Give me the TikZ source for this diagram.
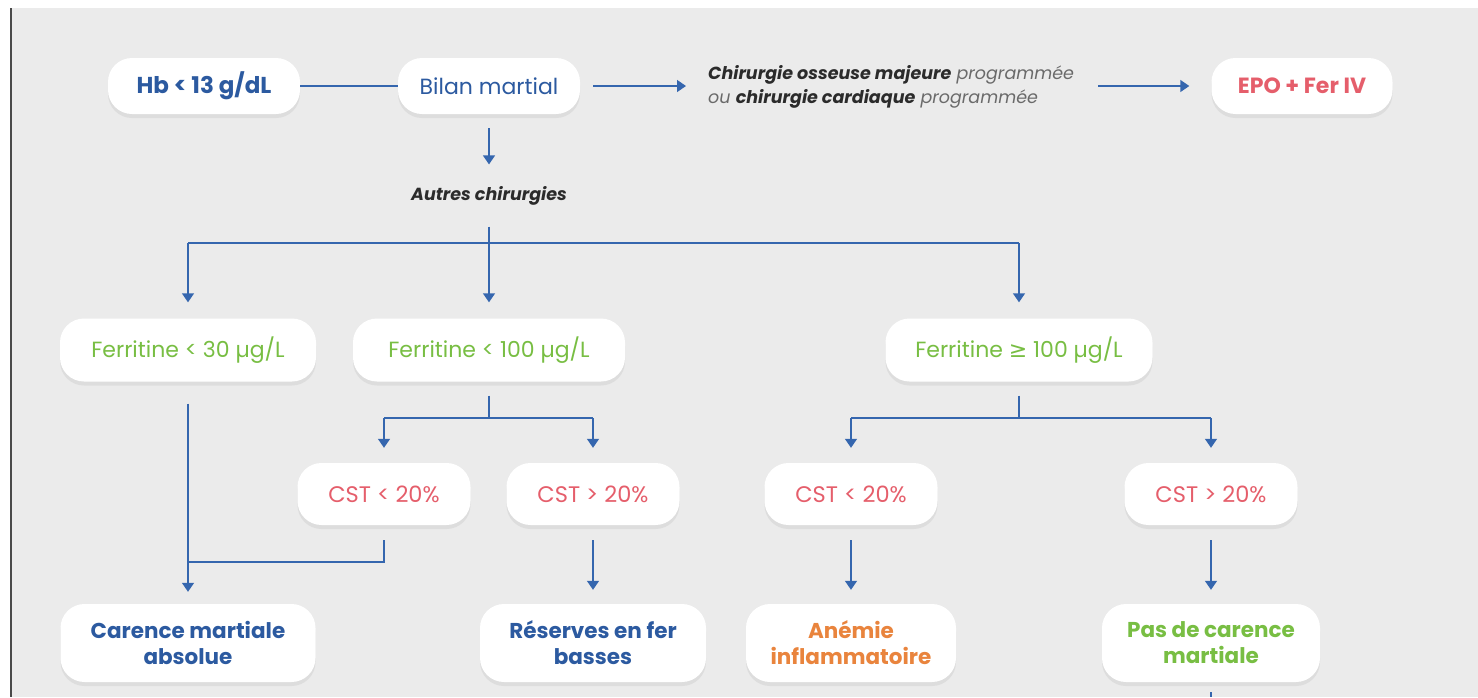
\documentclass[tikz,border=0pt]{standalone}
\usepackage{fontspec}
\setmainfont{Poppins}
\newfontfamily\symfont{DejaVu Sans}
\usetikzlibrary{shadows,arrows.meta}
\definecolor{bgcol}{HTML}{EBEBEB}
\definecolor{framecol}{HTML}{4A4A4A}
\definecolor{tblue}{HTML}{2C5AA0}
\definecolor{lblue}{HTML}{3566AE}
\definecolor{tgreen}{HTML}{78BE43}
\definecolor{tred}{HTML}{E55E6B}
\definecolor{torange}{HTML}{E9843D}
\definecolor{tdark}{HTML}{2B2B2B}
\definecolor{tgray}{HTML}{6A6A6A}
\tikzset{
  box/.style={fill=white, rounded corners=24pt, align=center, inner sep=0pt,
    drop shadow={opacity=0.13, shadow xshift=0pt, shadow yshift=-4pt}},
  pill/.style={box, minimum height=56pt},
  ferbox/.style={box, minimum height=63pt, text=tgreen, font=\fontsize{22}{26}\selectfont},
  cstbox/.style={box, minimum width=173pt, minimum height=62pt, text=tred, font=\fontsize{22.5}{26}\selectfont},
  resbox/.style={box, minimum height=78pt, font=\fontsize{21.5}{26}\selectfont\bfseries},
  conn/.style={draw=lblue, line width=1.4pt},
  arr/.style={conn, -{Triangle[width=12pt,length=9pt]}},
}
\begin{document}
\begin{tikzpicture}[x=1pt,y=-1pt]
\useasboundingbox (0,0) rectangle (1478,697);
\fill[white] (0,0) rectangle (1478,697);
\fill[bgcol] (11,8) rectangle (1478,697);
\draw[framecol, line width=2pt] (10.5,8) -- (10.5,697);

% top row
\node[pill, minimum width=192pt, text=tblue, font=\fontsize{23}{26}\selectfont\bfseries] (hb) at (204,86) {Hb < 13 g/dL};
\node[pill, minimum width=182pt, text=tblue, font=\fontsize{22}{26}\selectfont] (bilan) at (489,86) {Bilan martial};
\node[anchor=west, align=left, inner sep=0pt, font=\fontsize{17.5}{24}\selectfont\itshape, text=tgray] (chir) at (708,87)
  {{\color{tdark}\bfseries Chirurgie osseuse majeure} programmée\\ou {\color{tdark}\bfseries chirurgie cardiaque} programmée};
\node[pill, minimum width=181pt, text=tred, font=\fontsize{22}{26}\selectfont\bfseries] (epo) at (1302,86) {EPO + Fer IV};
\node[inner sep=0pt, text=tdark, font=\fontsize{17.5}{20}\selectfont\bfseries\itshape] (autres) at (489,196) {Autres chirurgies};

% ferritine row
\node[ferbox, minimum width=256pt] (f30) at (188,350) {Ferritine < 30 µg/L};
\node[ferbox, minimum width=272pt] (f100) at (489,350) {Ferritine < 100 µg/L};
\node[ferbox, minimum width=267pt] (fge) at (1019,350) {Ferritine {\symfont ≥} 100 µg/L};

% CST row
\node[cstbox] (c1) at (384,494) {CST < 20\%};
\node[cstbox] (c2) at (593,494) {CST > 20\%};
\node[cstbox] (c3) at (851,494) {CST < 20\%};
\node[cstbox] (c4) at (1211,494) {CST > 20\%};

% results
\node[resbox, minimum width=255pt, text=tblue] (carence) at (188,643) {Carence martiale\\absolue};
\node[resbox, minimum width=226pt, text=tblue] (reserves) at (593,643) {Réserves en fer\\basses};
\node[resbox, minimum width=210pt, text=torange] (anemie) at (851,643) {Anémie\\inflammatoire};
\node[resbox, minimum width=218pt, text=tgreen] (pas) at (1211,643) {Pas de carence\\martiale};

% junctions
\coordinate (j1) at (489,243);
\coordinate (j2) at (489,418);
\coordinate (j3) at (1019,418);
\coordinate (j4) at (188,562);
\coordinate (endb) at (1211,697);

% top connectors
\draw[conn] (hb.east) -- (bilan.west);
\draw[arr, shorten <=13pt, shorten >=22pt] (bilan.east) -- (chir.west |- bilan.east);
\draw[arr, shorten <=24pt, shorten >=22pt] (chir.east |- epo.west) -- (epo.west);
\draw[arr, shorten <=14pt, shorten >=22pt] (bilan.south) -- (autres.north);
\draw[conn, shorten <=21pt] (autres.south) -- (j1);
\draw[conn] (f30.north |- j1) -- (fge.north |- j1);
\draw[arr, shorten >=16pt] (f30.north |- j1) -- (f30.north);
\draw[arr, shorten >=16pt] (j1) -- (f100.north);
\draw[arr, shorten >=16pt] (fge.north |- j1) -- (fge.north);

% ferritine < 100 branches
\draw[conn, shorten <=14pt] (f100.south) -- (j2);
\draw[conn] (c1.north |- j2) -- (c2.north |- j2);
\draw[arr, shorten >=15pt] (c1.north |- j2) -- (c1.north);
\draw[arr, shorten >=15pt] (c2.north |- j2) -- (c2.north);

% ferritine >= 100 branches
\draw[conn, shorten <=14pt] (fge.south) -- (j3);
\draw[conn] (c3.north |- j3) -- (c4.north |- j3);
\draw[arr, shorten >=15pt] (c3.north |- j3) -- (c3.north);
\draw[arr, shorten >=15pt] (c4.north |- j3) -- (c4.north);

% to results
\draw[arr, shorten <=22pt, shorten >=12pt] (f30.south) -- (carence.north);
\draw[conn, shorten <=15pt] (c1.south) -- (c1.south |- j4) -- (j4);
\draw[arr, shorten <=15pt, shorten >=14pt] (c2.south) -- (reserves.north);
\draw[arr, shorten <=15pt, shorten >=14pt] (c3.south) -- (anemie.north);
\draw[arr, shorten <=15pt, shorten >=14pt] (c4.south) -- (pas.north);
\draw[conn, shorten <=10pt] (pas.south) -- (endb);
\end{tikzpicture}
\end{document}
